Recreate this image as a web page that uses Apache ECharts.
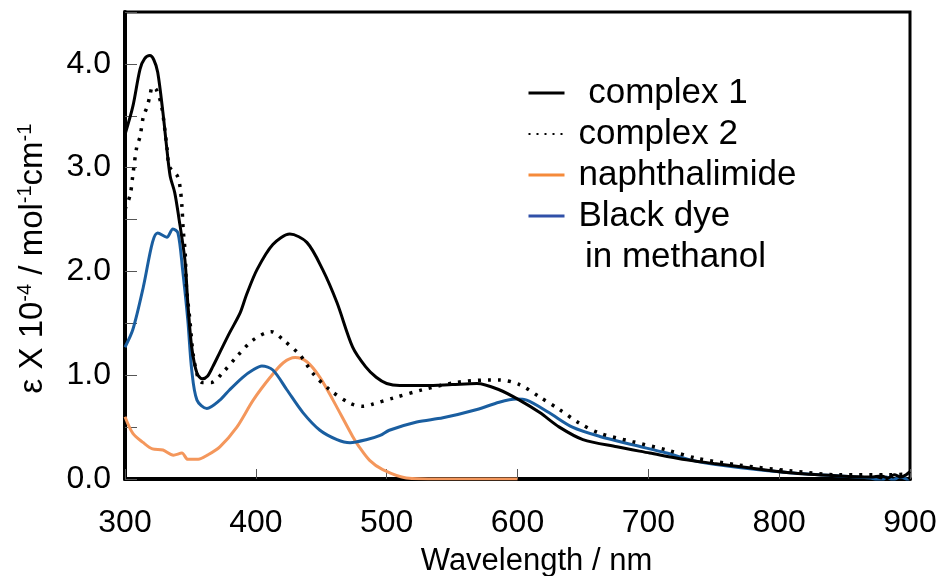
<!DOCTYPE html>
<html>
<head>
<meta charset="utf-8">
<script src="https://cdn.jsdelivr.net/npm/echarts@6/dist/echarts.min.js"></script>
<style>
  html, body { margin: 0; padding: 0; background: #fff; }
  #chart { width: 941px; height: 576px; }
</style>
</head>
<body>
<div id="chart"></div>
<script>
// wavelengths (nm) and epsilon (x10^4)
const c1Wl = [300, 306, 311.5, 315, 319, 322, 325, 329, 332, 334.5, 338, 341, 345.8, 348, 351, 355, 359, 363, 367, 372.5, 380, 388, 393, 401, 413, 426, 439, 451, 462, 474, 484, 492, 500, 510, 530, 550, 569, 586, 601.5, 617, 632, 650, 676, 701, 726, 750, 769, 808, 846, 870, 878, 883, 888, 893, 897, 900]
const c1Eps = [3.32, 3.59, 3.95, 4.05, 4.08, 4.04, 3.92, 3.53, 3.18, 2.92, 2.76, 2.53, 2.11, 1.70, 1.27, 1.02, 0.965, 0.99, 1.08, 1.22, 1.41, 1.60, 1.78, 2.02, 2.26, 2.36, 2.28, 2.02, 1.70, 1.27, 1.08, 0.98, 0.92, 0.90, 0.90, 0.91, 0.92, 0.86, 0.76, 0.64, 0.50, 0.38, 0.31, 0.25, 0.19, 0.15, 0.12, 0.06, 0.03, 0.02, 0.03, 0.01, 0.04, 0.02, 0.04, 0.07]

const c2Wl = [300, 304, 306, 309, 311.5, 314, 317, 319, 321, 324, 328, 332, 334, 340, 342, 343.5, 344.5, 346, 347, 349.6, 352, 355.7, 359, 366, 375, 385.5, 398, 412, 421, 434, 443.5, 456.5, 472, 482, 489, 505, 527.5, 553, 579, 586, 601.5, 617, 632, 647, 663, 688, 714, 737, 769, 808, 846, 884, 900]
const c2Eps = [2.6, 2.74, 2.93, 3.2, 3.30, 3.49, 3.59, 3.69, 3.78, 3.75, 3.59, 3.2, 3.01, 2.92, 2.82, 2.63, 2.4, 2.18, 1.85, 1.53, 1.21, 0.98, 0.93, 0.93, 1.03, 1.18, 1.34, 1.42, 1.34, 1.19, 1.02, 0.86, 0.73, 0.70, 0.72, 0.78, 0.86, 0.93, 0.955, 0.955, 0.91, 0.79, 0.67, 0.54, 0.44, 0.36, 0.28, 0.20, 0.135, 0.08, 0.04, 0.04, 0.05]

const naWl = [300, 306, 314, 321, 329, 337, 343.5, 348, 356, 363, 372.5, 385.5, 398, 411, 421, 430, 439, 449, 459, 474, 479, 487, 497, 515, 540, 570, 600]
const naEps = [0.60, 0.44, 0.35, 0.29, 0.28, 0.23, 0.25, 0.19, 0.19, 0.23, 0.31, 0.50, 0.76, 0.98, 1.12, 1.17, 1.13, 0.98, 0.76, 0.41, 0.31, 0.18, 0.09, 0.01, 0.0, 0.0, 0.0]

const bdWl = [300, 306, 314, 321, 325, 332, 336.6, 340.5, 344, 348, 351, 355, 362.6, 372.5, 380, 390, 397.7, 404.6, 413, 423.7, 436, 449, 462, 472, 485, 495, 502, 523, 543, 569, 586, 599, 607, 624, 642, 663, 688, 714, 737, 769, 808, 846, 870, 878, 882, 887, 892, 897, 900]
const bdEps = [1.27, 1.44, 1.85, 2.28, 2.37, 2.33, 2.41, 2.37, 2.02, 1.53, 1.05, 0.76, 0.68, 0.76, 0.86, 0.98, 1.05, 1.09, 1.05, 0.86, 0.64, 0.47, 0.38, 0.35, 0.38, 0.42, 0.47, 0.55, 0.59, 0.67, 0.74, 0.77, 0.76, 0.64, 0.50, 0.41, 0.33, 0.25, 0.17, 0.11, 0.06, 0.03, 0.01, -0.02, 0.02, -0.01, 0.02, 0.0, -0.05]

const yTicks = [0, 1, 2, 3, 4]

function pairs(xs, ys) {
  return xs.map((x, i) => [x, ys[i]])
}

const font = 'Liberation Sans, Arial, sans-serif'
const chart = echarts.init(document.getElementById('chart'))
const noDot = { opacity: 0 }

chart.setOption({
  animation: false,
  textStyle: { fontFamily: font },
  grid: {
    left: 125, right: 31, top: 12, bottom: 97,
    outerBoundsMode: 'none',
    show: true, borderColor: '#000', borderWidth: 3
  },
  legend: {
    orient: 'vertical',
    left: 522,
    top: 70,
    itemWidth: 36,
    itemHeight: 14,
    itemGap: 5,
    textStyle: { fontSize: 35, lineHeight: 36, color: '#000', fontFamily: font, padding: [0, 0, 0, 9] },
    formatter: name => name === 'complex 1' ? ' complex 1' : name,
    data: [
      { name: 'complex 1', itemStyle: noDot, lineStyle: { color: '#000', width: 3 } },
      { name: 'complex 2', itemStyle: noDot, lineStyle: { color: '#000', width: 2, type: [2, 6] } },
      { name: 'naphthalimide', itemStyle: noDot, lineStyle: { color: '#f58a3a', width: 3 } },
      { name: 'Black dye', itemStyle: noDot, lineStyle: { color: '#3050a8', width: 3 } }
    ]
  },
  graphic: [{
    type: 'text',
    left: 585,
    top: 240,
    style: { text: 'in methanol', font: '35px ' + font, fill: '#000' }
  }],
  xAxis: {
    type: 'value',
    min: 300, max: 900, interval: 100,
    name: 'Wavelength / nm',
    nameLocation: 'middle',
    nameGap: 67,
    nameTextStyle: { fontSize: 31, color: '#000', padding: [0, 0, 0, 38] },
    axisLine: { lineStyle: { color: '#000', width: 4 } },
    axisTick: { inside: true, length: 10, lineStyle: { color: '#555', width: 1 } },
    axisLabel: { fontSize: 32, color: '#000', margin: 28 },
    splitLine: { show: false }
  },
  yAxis: {
    type: 'value',
    min: 0, max: 4.5, interval: 1,
    name: '{a|ε X 10}{s|-4}{a| / mol}{s|-1}{a|cm}{s|-1}',
    nameLocation: 'middle',
    nameGap: 74,
    nameTextStyle: {
      color: '#000',
      padding: [0, 26, 0, 0],
      rich: {
        a: { fontSize: 33, color: '#000', fontFamily: font, lineHeight: 36 },
        s: { fontSize: 20, color: '#000', fontFamily: font, verticalAlign: 'top', lineHeight: 36 }
      }
    },
    axisLine: { lineStyle: { color: '#000', width: 4 } },
    axisTick: { inside: true, length: 12, lineStyle: { color: '#555', width: 1 } },
    minorTick: { show: true, splitNumber: 2, length: 12, lineStyle: { color: '#555', width: 1 } },
    axisLabel: {
      fontSize: 32, color: '#000', margin: 14, showMaxLabel: false,
      formatter: v => yTicks.includes(v) ? v.toFixed(1) : ''
    },
    splitLine: { show: false },
    minorSplitLine: { show: false }
  },
  series: [
    {
      name: 'complex 1', type: 'line', symbol: 'none', smooth: 0.3, z: 4,
      data: pairs(c1Wl, c1Eps),
      lineStyle: { color: '#000', width: 3 }, itemStyle: { color: '#000' }
    },
    {
      name: 'complex 2', type: 'line', symbol: 'none', smooth: 0.3, z: 3,
      data: pairs(c2Wl, c2Eps),
      lineStyle: { color: '#000', width: 3.5, type: [3, 7], cap: 'butt' }, itemStyle: { color: '#000' }
    },
    {
      name: 'naphthalimide', type: 'line', symbol: 'none', smooth: 0.3, z: 2,
      data: pairs(naWl, naEps),
      lineStyle: { color: '#f4975c', width: 3 }, itemStyle: { color: '#f4975c' }
    },
    {
      name: 'Black dye', type: 'line', symbol: 'none', smooth: 0.3, z: 2,
      data: pairs(bdWl, bdEps),
      lineStyle: { color: '#1a5ea0', width: 3 }, itemStyle: { color: '#1a5ea0' }
    }
  ]
})
</script>
</body>
</html>
